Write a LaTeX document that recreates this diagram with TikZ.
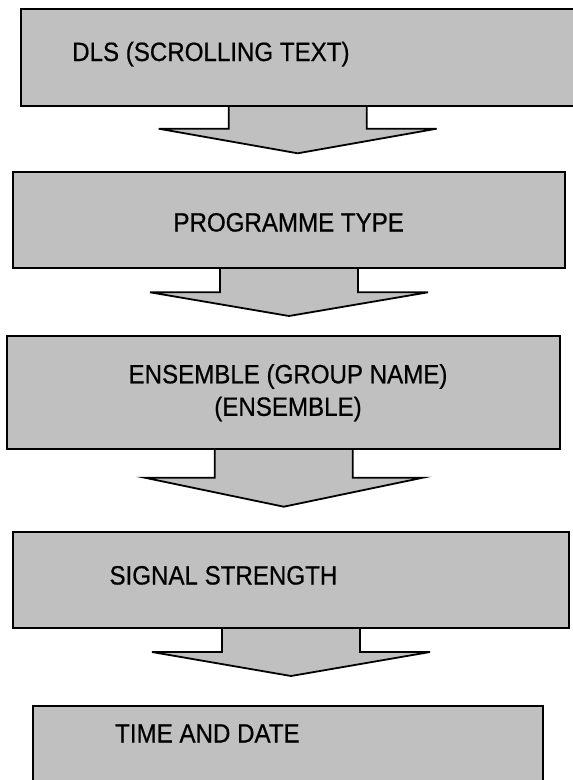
\documentclass[tikz,border=0pt]{standalone}
\usepackage{fontspec}
\setmainfont{Liberation Sans}[FakeStretch=0.91, FakeBold=0.6]
\usetikzlibrary{backgrounds}

\begin{document}
\begin{tikzpicture}[x=1pt, y=-1pt,
        boxline/.style={draw=black, line width=1.8pt, fill=menugray},
        menubox/.style={boxline, rectangle, inner sep=0pt, outer sep=0pt},
        menutext/.style={inner sep=0pt, font=\fontsize{26.5}{32.5}\selectfont},
        pics/blockarrow/.style 2 args={code={
            \filldraw[boxline] (-69,0) -- (-69,#1) -- (-139,#1) -- (0,#2) -- (139,#1) -- (69,#1) -- (69,0);
        }}]
        \definecolor{menugray}{RGB}{192,192,192}

        \useasboundingbox (0,0) rectangle (573,780);
        \clip (0,0) rectangle (573,780);

        % Menu boxes, top to bottom
        \node[menubox, minimum width=554pt, minimum height=96.7pt] (b1) at (297.7,57.65) {};
        \node[menubox, minimum width=552.6pt, minimum height=95.4pt] (b2) at (289,220) {};
        \node[menubox, minimum width=553pt, minimum height=113.3pt] (b3) at (283.8,392.65) {};
        \node[menubox, minimum width=556.6pt, minimum height=96pt] (b4) at (291,580.3) {};
        \node[menubox, minimum width=510.6pt, minimum height=96pt] (b5) at (288,754) {};

        % Labels for the boxes
        \node[menutext, anchor=base west] (t1) at (72,61) {DLS (SCROLLING TEXT)};
        \node[menutext, anchor=base] (t2) at (288.7,231.5) {PROGRAMME TYPE};
        \node[menutext, align=center] (t3) at (288,392.7) {ENSEMBLE (GROUP NAME)\\(ENSEMBLE)};
        \node[menutext, anchor=base west] (t4) at (109.3,584.5) {SIGNAL STRENGTH};
        \node[menutext, anchor=base west] (t5) at (115,742.5) {TIME AND DATE};

        % Block arrows between the boxes
        \begin{scope}[on background layer]
            \pic at (b1.south) {blockarrow={22.7}{47.3}};
            \pic at (b2.south) {blockarrow={24.6}{48.3}};
            \pic at (b3.south) {blockarrow={28.4}{57.4}};
            \pic at (b4.south) {blockarrow={23.7}{47.7}};
        \end{scope}
    \end{tikzpicture}
\end{document}
